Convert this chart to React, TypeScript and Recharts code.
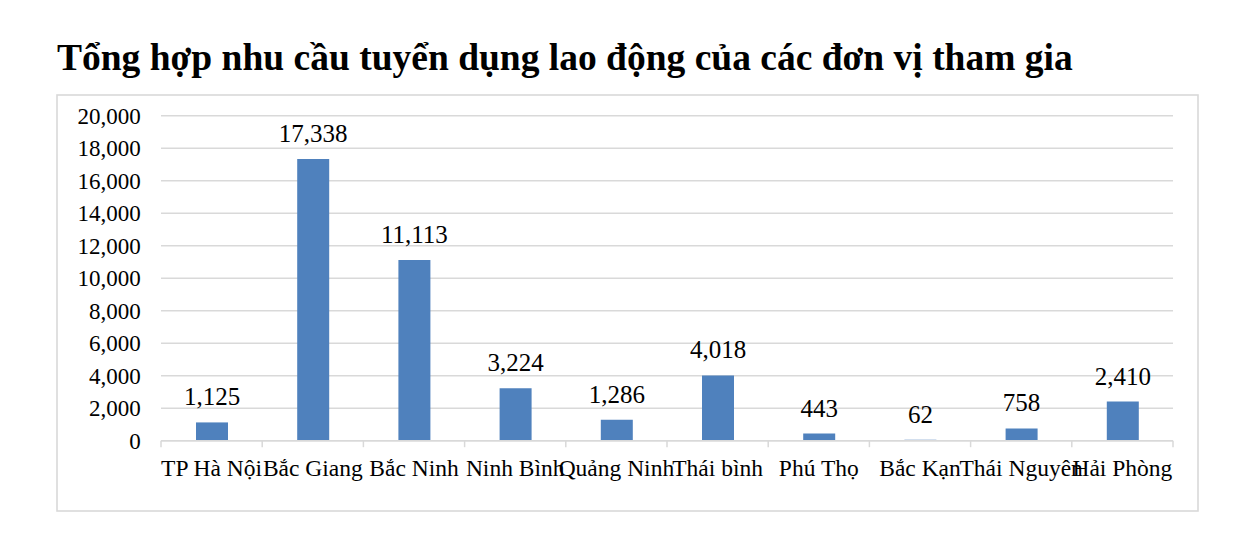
import React from "react";
import { BarChart, Bar, XAxis, YAxis, CartesianGrid, LabelList } from "recharts";

const categories = [
  "TP Hà Nội",
  "Bắc Giang",
  "Bắc Ninh",
  "Ninh Bình",
  "Quảng Ninh",
  "Thái bình",
  "Phú Thọ",
  "Bắc Kạn",
  "Thái Nguyên",
  "Hải Phòng",
];
const values = [1125, 17338, 11113, 3224, 1286, 4018, 443, 62, 758, 2410];
const yTicks = [0, 2000, 4000, 6000, 8000, 10000, 12000, 14000, 16000, 18000, 20000];
const title = "Tổng hợp nhu cầu tuyển dụng lao động của các đơn vị tham gia";

const data = categories.map((name, i) => ({ name, value: values[i] }));

const FONT = "'Liberation Serif', 'Times New Roman', serif";
const W = 1249;
const H = 544;
const PLOT_LEFT = 161;
const PLOT_RIGHT = 1173;
const PLOT_TOP = 115.7;
const PLOT_BOTTOM = 440.7;
const Y_AXIS_W = 100;
const X_AXIS_H = 40;
const BAND = (PLOT_RIGHT - PLOT_LEFT) / categories.length;
const GRID = "#d9d9d9";

const fmt = (v: number) => Number(v).toLocaleString("en-US");

const XTick = (props: any) => {
  const { x, y, payload, index } = props;
  const last = index === categories.length - 1;
  return (
    <g>
      <line x1={x - BAND / 2} x2={x - BAND / 2} y1={y} y2={y + 6.5} stroke={GRID} strokeWidth={1.5} />
      {last && (
        <line x1={x + BAND / 2} x2={x + BAND / 2} y1={y} y2={y + 6.5} stroke={GRID} strokeWidth={1.5} />
      )}
      <text x={x} y={y + 35.3} textAnchor="middle" fontFamily={FONT} fontSize={23.5} fill="#000">
        {payload.value}
      </text>
    </g>
  );
};

export default function App() {
  return (
    <div style={{ position: "absolute", left: 0, top: 0, width: W, height: H, background: "#fff" }}>
      <svg width={W} height={H} style={{ position: "absolute", left: 0, top: 0 }}>
        <rect x={57} y={95} width={1141} height={416} fill="#fff" stroke={GRID} strokeWidth={1.6} />
        <text x={57} y={70} fontFamily={FONT} fontSize={37.5} fontWeight="bold" fill="#000">
          {title}
        </text>
      </svg>
      <div style={{ position: "absolute", left: 0, top: 0 }}>
        <BarChart
          width={W}
          height={H}
          data={data}
          margin={{
            top: PLOT_TOP,
            left: PLOT_LEFT - Y_AXIS_W,
            right: W - PLOT_RIGHT,
            bottom: H - PLOT_BOTTOM - X_AXIS_H,
          }}
          barSize={32}
        >
          <CartesianGrid vertical={false} stroke={GRID} strokeWidth={1.5} />
          <XAxis
            dataKey="name"
            height={X_AXIS_H}
            interval={0}
            tickLine={false}
            tickSize={0}
            tickMargin={0}
            axisLine={{ stroke: GRID, strokeWidth: 1.5 }}
            tick={<XTick />}
          />
          <YAxis
            width={Y_AXIS_W}
            domain={[0, 20000]}
            ticks={yTicks}
            interval={0}
            axisLine={false}
            tickLine={false}
            tickSize={0}
            tickMargin={20.3}
            tickFormatter={fmt}
            tick={{ fontFamily: FONT, fontSize: 23, fill: "#000" }}
          />
          <Bar dataKey="value" fill="#4f81bd" isAnimationActive={false}>
            <LabelList
              dataKey="value"
              position="top"
              offset={17}
              formatter={(v: any) => fmt(v)}
              style={{ fontFamily: FONT, fontSize: 25, fill: "#000" }}
            />
          </Bar>
        </BarChart>
      </div>
    </div>
  );
}
